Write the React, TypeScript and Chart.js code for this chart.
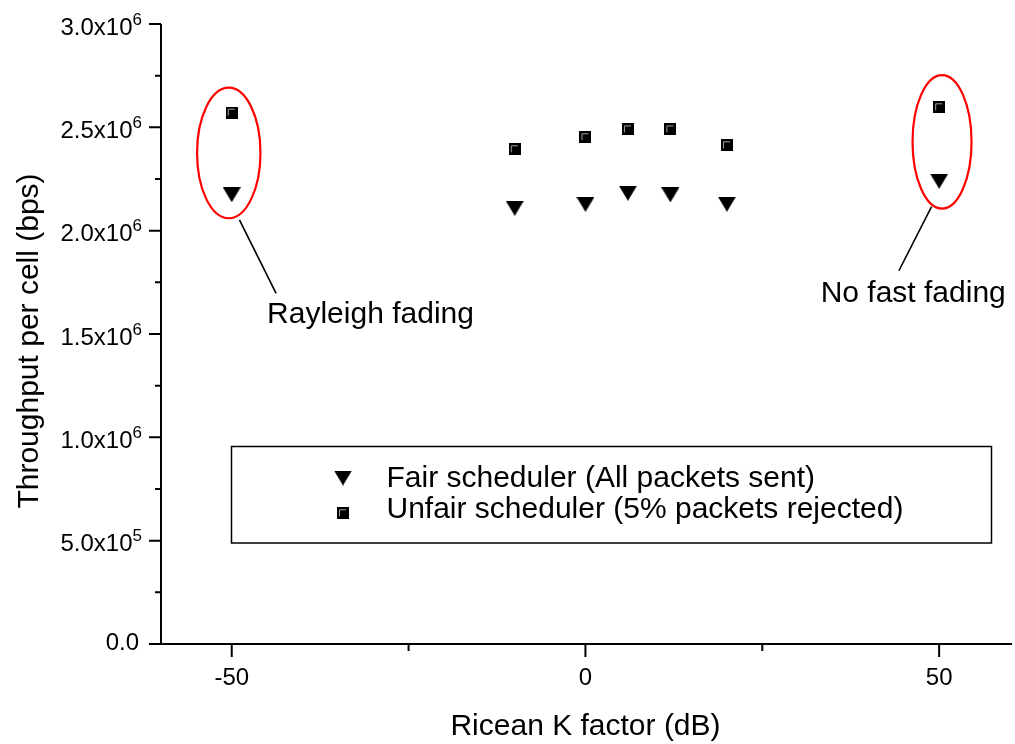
import React, { useEffect, useRef } from 'react';
import { Chart, registerables } from 'chart.js';

Chart.register(...registerables);

// ---- data ----
const kFactors = [-50, -10, 0, 6, 12, 20, 50];
const fairThroughput = [2.174e6, 2.108e6, 2.127e6, 2.181e6, 2.173e6, 2.128e6, 2.239e6];
const unfairThroughput = [2.571e6, 2.394e6, 2.452e6, 2.49e6, 2.49e6, 2.413e6, 2.597e6];
const seriesLabels = ['Fair scheduler (All packets sent)', 'Unfair scheduler (5% packets rejected)'];

const xMajorTicks = [-50, 0, 50];
const xMinorTicks = [-25, 25];
const xTickLabels = ['-50', '0', '50'];
const yMajorTicks = [0, 5e5, 1e6, 1.5e6, 2e6, 2.5e6, 3e6];
const yMinorTicks = [2.5e5, 7.5e5, 1.25e6, 1.75e6, 2.25e6, 2.75e6];
const yTickMantissas = ['0.0', '5.0x10', '1.0x10', '1.5x10', '2.0x10', '2.5x10', '3.0x10'];
const yTickExponents = ['', '5', '6', '6', '6', '6', '6'];

const xTitle = 'Ricean K factor (dB)';
const yTitle = 'Throughput per cell (bps)';
const annotationTexts = ['Rayleigh fading', 'No fast fading'];

// annotation geometry in data coordinates
const ellipses = [
  { cx: -50.42, cy: 2.376e6, rx: 4.48, ry: 0.316e6 },
  { cx: 50.41, cy: 2.43e6, rx: 4.17, ry: 0.323e6 },
];
const leaders = [
  { x1: -48.91, y1: 2.052e6, x2: -43.73, y2: 1.697e6, tx: -45.0, ty: 1.552e6 },
  { x1: 48.93, y1: 2.116e6, x2: 44.31, y2: 1.806e6, tx: 33.25, ty: 1.656e6 },
];

const FONT = '"Liberation Sans", Arial, Helvetica, sans-serif';

function makeSquare(): HTMLCanvasElement {
  const c = document.createElement('canvas');
  c.width = 12;
  c.height = 12;
  const g = c.getContext('2d')!;
  g.fillStyle = '#000';
  g.fillRect(0, 0, 12, 12);
  g.strokeStyle = '#a0a0a0';
  g.lineWidth = 1;
  g.beginPath();
  g.moveTo(2.5, 9);
  g.lineTo(2.5, 2.5);
  g.lineTo(9, 2.5);
  g.stroke();
  return c;
}

function makeTriangle(): HTMLCanvasElement {
  const c = document.createElement('canvas');
  c.width = 18;
  c.height = 15;
  const g = c.getContext('2d')!;
  g.fillStyle = '#000';
  g.beginPath();
  g.moveTo(0, 0);
  g.lineTo(18, 0);
  g.lineTo(9, 15);
  g.closePath();
  g.fill();
  return c;
}

export default function App() {
  const ref = useRef<HTMLCanvasElement | null>(null);

  useEffect(() => {
    const canvas = ref.current;
    if (!canvas) return;
    const tri = makeTriangle();
    const sq = makeSquare();

    const axesPlugin = {
      id: 'originAxes',
      beforeDatasetsDraw(chart: any) {
        const ctx = chart.ctx as CanvasRenderingContext2D;
        const xs = chart.scales.x;
        const ys = chart.scales.y;
        const area = chart.chartArea;
        const x0 = xs.getPixelForValue(-60);
        const yb = ys.getPixelForValue(0);
        const yt = ys.getPixelForValue(3e6);
        ctx.save();
        ctx.strokeStyle = '#000';
        ctx.lineWidth = 2;
        ctx.beginPath();
        ctx.moveTo(x0, yt);
        ctx.lineTo(x0, yb);
        ctx.moveTo(x0, yb);
        ctx.lineTo(area.right, yb);
        // y ticks
        yMajorTicks.forEach((v) => {
          const p = ys.getPixelForValue(v);
          ctx.moveTo(x0 - 12, p);
          ctx.lineTo(x0, p);
        });
        yMinorTicks.forEach((v) => {
          const p = ys.getPixelForValue(v);
          ctx.moveTo(x0 - 6, p);
          ctx.lineTo(x0, p);
        });
        xMajorTicks.forEach((v) => {
          const p = xs.getPixelForValue(v);
          ctx.moveTo(p, yb);
          ctx.lineTo(p, yb + 13);
        });
        xMinorTicks.forEach((v) => {
          const p = xs.getPixelForValue(v);
          ctx.moveTo(p, yb);
          ctx.lineTo(p, yb + 7);
        });
        ctx.stroke();

        // tick labels
        ctx.fillStyle = '#000';
        ctx.textBaseline = 'alphabetic';
        xMajorTicks.forEach((v, i) => {
          const p = xs.getPixelForValue(v);
          ctx.font = `24px ${FONT}`;
          ctx.textAlign = 'center';
          ctx.fillText(xTickLabels[i], p, yb + 41);
        });
        ctx.textAlign = 'left';
        yMajorTicks.forEach((v, i) => {
          const p = ys.getPixelForValue(v);
          const m = yTickMantissas[i];
          const e = yTickExponents[i];
          ctx.font = `24px ${FONT}`;
          const wm = ctx.measureText(m).width;
          ctx.font = `17px ${FONT}`;
          const we = e ? ctx.measureText(e).width : 0;
          const right = e ? 142 : 139;
          const left = right - wm - we;
          const base = e ? p + 10.5 : p + 5.5;
          ctx.font = `24px ${FONT}`;
          ctx.fillText(m, left, base);
          if (e) {
            ctx.font = `17px ${FONT}`;
            ctx.fillText(e, left + wm, base - 10);
          }
        });

        // axis titles
        ctx.font = `30px ${FONT}`;
        ctx.textAlign = 'center';
        ctx.fillText(xTitle, 585.5, 735);
        ctx.save();
        ctx.translate(38, 341);
        ctx.rotate(-Math.PI / 2);
        ctx.fillText(yTitle, 0, 0);
        ctx.restore();
        ctx.restore();
      },
      afterDatasetsDraw(chart: any) {
        const ctx = chart.ctx as CanvasRenderingContext2D;
        const xs = chart.scales.x;
        const ys = chart.scales.y;
        ctx.save();
        // ellipses
        ctx.strokeStyle = '#ff0000';
        ctx.lineWidth = 2.2;
        ellipses.forEach((el) => {
          const cx = xs.getPixelForValue(el.cx);
          const cy = ys.getPixelForValue(el.cy);
          const rx = Math.abs(xs.getPixelForValue(el.cx + el.rx) - cx);
          const ry = Math.abs(ys.getPixelForValue(el.cy + el.ry) - cy);
          ctx.beginPath();
          ctx.ellipse(cx, cy, rx, ry, 0, 0, Math.PI * 2);
          ctx.stroke();
        });
        // leader lines + texts
        ctx.strokeStyle = '#000';
        ctx.fillStyle = '#000';
        ctx.lineWidth = 1.6;
        ctx.font = `30px ${FONT}`;
        ctx.textAlign = 'left';
        leaders.forEach((l, i) => {
          ctx.beginPath();
          ctx.moveTo(xs.getPixelForValue(l.x1), ys.getPixelForValue(l.y1));
          ctx.lineTo(xs.getPixelForValue(l.x2), ys.getPixelForValue(l.y2));
          ctx.stroke();
          ctx.fillText(annotationTexts[i], xs.getPixelForValue(l.tx), ys.getPixelForValue(l.ty));
        });

        // legend box
        ctx.lineWidth = 1.5;
        ctx.strokeStyle = '#000';
        ctx.strokeRect(231.5, 446.5, 760, 96.5);
        const imgs = [tri, sq];
        const rowsBase = [486.7, 518.3];
        const rowsSym = [478, 513.3];
        ctx.font = `30px ${FONT}`;
        chart.data.datasets.forEach((ds: any, i: number) => {
          const im = imgs[i];
          ctx.drawImage(im, 343 - im.width / 2, rowsSym[i] - im.height / 2);
          ctx.fillText(ds.label, 386.5, rowsBase[i]);
        });
        ctx.restore();
      },
    };

    const chart = new Chart(canvas, {
      type: 'scatter',
      data: {
        datasets: [
          {
            label: seriesLabels[0],
            data: kFactors.map((x, i) => ({ x, y: fairThroughput[i] })),
            pointStyle: tri as any,
            pointRadius: 9,
            backgroundColor: '#000',
            borderColor: '#000',
          },
          {
            label: seriesLabels[1],
            data: kFactors.map((x, i) => ({ x, y: unfairThroughput[i] })),
            pointStyle: sq as any,
            pointRadius: 6,
            backgroundColor: '#000',
            borderColor: '#000',
          },
        ],
      },
      options: {
        responsive: false,
        animation: false,
        devicePixelRatio: 1,
        events: [],
        layout: { autoPadding: false, padding: { left: 161, right: 3, top: 24, bottom: 100 } },
        scales: {
          x: { type: 'linear', display: false, min: -60, max: 60.3 },
          y: { type: 'linear', display: false, min: 0, max: 3e6 },
        },
        plugins: {
          legend: { display: false },
          tooltip: { enabled: false },
        },
      },
      plugins: [axesPlugin],
    } as any);

    return () => chart.destroy();
  }, []);

  return (
    <div style={{ position: 'absolute', left: 0, top: 0, width: 1015, height: 744, background: '#fff' }}>
      <canvas ref={ref} width={1015} height={744} style={{ display: 'block', width: 1015, height: 744 }} />
    </div>
  );
}
